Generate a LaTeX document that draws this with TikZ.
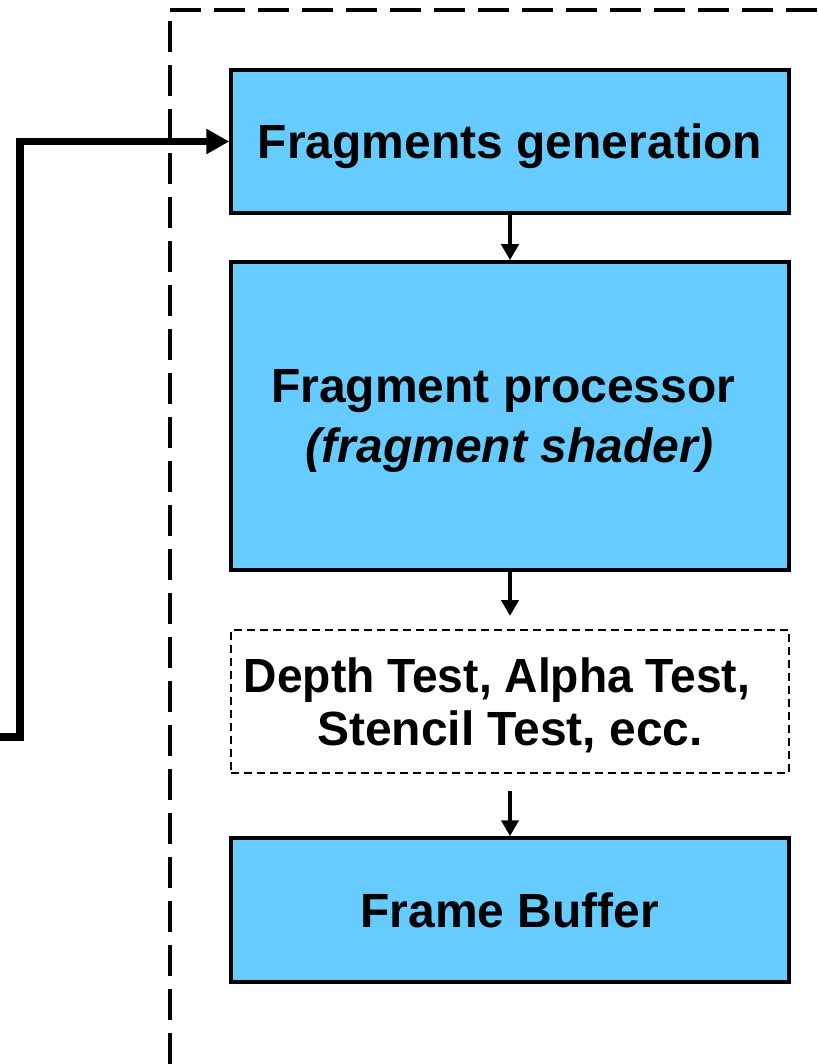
\documentclass[tikz,border=0pt]{standalone}
\usepackage{fontspec}
\setmainfont{Liberation Sans}
\usetikzlibrary{arrows.meta}
\definecolor{stagefill}{HTML}{66CCFF}
\begin{document}
\begin{tikzpicture}[x=1pt,y=-1pt,
  stagebox/.style={draw=black, line width=3.5pt, fill=stagefill, rectangle,
    minimum width=558pt, inner sep=0pt, align=center, text depth=0pt,
    font=\fontsize{48}{60}\selectfont\bfseries},
  testbox/.style={draw=black, line width=2pt, dash pattern=on 8pt off 5pt,
    rectangle, minimum width=558pt, minimum height=143pt, inner sep=0pt,
    align=center, text depth=0pt, font=\fontsize{48}{53}\selectfont\bfseries},
  flow/.style={line width=4pt, -{Triangle[length=16pt,width=17pt]}},
  feed/.style={line width=7.5pt, -{Triangle[length=23pt,width=24pt]}},
  frame/.style={line width=4pt, dash pattern=on 31pt off 13pt}]
\useasboundingbox (0,0) rectangle (817,1064);

% outer dashed frame (open to the right and bottom)
\coordinate (corner) at (170,10);
\coordinate (frameright) at (840,10);
\coordinate (framebottom) at (170,1080);
\draw[frame] (corner) -- (frameright);
\draw[frame, dash phase=33pt] (corner) -- (framebottom);

% pipeline stages
\node[stagebox, minimum height=143pt] (gen) at (510,141.5) {Fragments generation};
\node[stagebox, minimum height=308pt] (proc) at (510,416)
  {Fragment processor\ \mbox{}\\\textit{(fragment shader)}};
\node[testbox] (tests) at (510,701.5)
  {\scalebox{0.962}[1]{Depth Test, Alpha Test,}\hspace{26pt}\mbox{}\\Stencil Test, ecc.};
\node[stagebox, minimum height=144pt] (fb) at (510,910) {Frame Buffer};

% connectors
\draw[flow] (gen.south) -- (proc.north);
\draw[flow, shorten >=13pt] (proc.south) -- (tests.north);
\draw[flow, shorten <=17pt] (tests.south) -- (fb.north);

% incoming feed from the left
\coordinate (src) at (-5,737);
\draw[feed] (src) -- (20,737) |- (gen.west);
\end{tikzpicture}
\end{document}
